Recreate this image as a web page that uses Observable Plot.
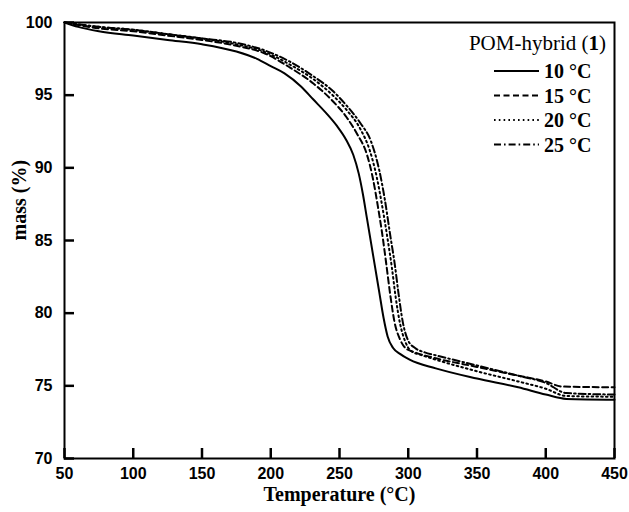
<!DOCTYPE html>
<html>
<head>
<meta charset="utf-8">
<script src="https://cdn.jsdelivr.net/npm/d3@7"></script>
<script src="https://cdn.jsdelivr.net/npm/@observablehq/plot@0.6"></script>
<style>
  html, body { margin: 0; padding: 0; background: #fff; }
  #chart { width: 629px; height: 512px; }
</style>
</head>
<body>
<div id="chart"></div>
<script>
// ---- Data ----
const xTicks = [50, 100, 150, 200, 250, 300, 350, 400, 450];
const yTicks = [70, 75, 80, 85, 90, 95, 100];

const seriesNames = ["10 °C", "15 °C", "20 °C", "25 °C"];
const legendTitle = "POM-hybrid (";
const legendTitleNum = "1";
const xLabel = "Temperature (°C)";
const yLabel = "mass (%)";

const t10 = [50,60,75,100,125,150,175,190,200,210,222,231,240,248,255,260,264,267,270,273,276,279,282,285,289,294,301,320,350,380,400,415,450];
const m10 = [100,99.7,99.4,99.1,98.8,98.5,98.0,97.5,97.0,96.5,95.6,94.7,93.8,92.9,91.9,90.9,89.6,88.2,86.5,84.8,83.1,81.4,79.7,78.4,77.6,77.2,76.8,76.2,75.5,74.9,74.4,74.1,74.05];

const t15 = [50,75,100,125,150,175,195,214,231,245,255,263,270,274,278,281,284,287,290,294,298,305,320,350,380,400,412,450];
const m15 = [100,99.6,99.4,99.1,98.8,98.4,97.9,96.9,95.8,94.6,93.5,92.3,90.9,89.4,87.3,85.5,83.4,81.2,79.4,78.2,77.6,77.3,76.9,76.3,75.7,75.3,74.95,74.9];

const t20 = [50,75,100,125,150,175,195,214,231,245,255,265,272,277,281,285,288,291,294,298,302,310,320,350,380,400,415,450];
const m20 = [100,99.7,99.5,99.2,98.9,98.5,98.0,97.1,96.1,95.0,94.0,92.7,91.2,89.4,87.4,85.1,83.2,81.0,79.3,78.0,77.4,77.1,76.8,76.0,75.3,74.8,74.3,74.25];

const t25 = [50,75,100,125,150,175,195,214,231,245,255,265,273,279,283,287,290,293,296,300,305,312,320,350,380,400,415,450];
const m25 = [100,99.7,99.5,99.2,98.9,98.6,98.1,97.3,96.3,95.3,94.3,93.1,91.8,89.8,87.8,85.3,83.5,81.3,79.4,78.1,77.6,77.3,77.1,76.4,75.7,75.2,74.5,74.4];

// ---- Build table ----
const temps = [t10, t15, t20, t25];
const masses = [m10, m15, m20, m25];
const dashes = [null, "6,3.5", "1.6,3.2", "7,3,1.6,3"];

const W = 629, H = 512;
const mL = 64, mR = 15, mT = 22, mB = 54;
const innerW = W - mL - mR, innerH = H - mT - mB;
const SERIF = "'Liberation Serif', 'Times New Roman', serif";

const lineMarks = seriesNames.map((name, i) => {
  const rows = temps[i].map((t, j) => ({T: t, m: masses[i][j]}));
  return Plot.line(rows, {
    x: "T", y: "m", stroke: "#000", strokeWidth: 2,
    strokeDasharray: dashes[i], curve: "monotone-x"
  });
});

// legend as a custom mark placed in the upper-right of the frame
function legendMark(index, scales, values, dims) {
  const g = d3.create("svg:g");
  const right = dims.width - dims.marginRight - 8;
  g.append("text")
    .attr("x", right).attr("y", 50)
    .attr("text-anchor", "end")
    .attr("font-family", SERIF)
    .attr("font-weight", "normal")
    .attr("font-size", 21)
    .attr("fill", "#000")
    .call(t => {
      t.append("tspan").text(legendTitle);
      t.append("tspan").attr("font-weight", "bold").text(legendTitleNum);
      t.append("tspan").text(")");
    });
  seriesNames.forEach((name, i) => {
    const cy = 71 + i * 24.5;
    g.append("line")
      .attr("x1", right - 112).attr("x2", right - 67)
      .attr("y1", cy).attr("y2", cy)
      .attr("stroke", "#000").attr("stroke-width", 2)
      .attr("stroke-dasharray", dashes[i]);
    g.append("text")
      .attr("x", right - 62).attr("y", cy + 7)
      .attr("text-anchor", "start")
      .attr("font-family", SERIF)
      .attr("font-weight", "bold")
      .attr("font-size", 20)
      .attr("fill", "#000")
      .text(name);
  });
  return g.node();
}

const chart = Plot.plot({
  width: W, height: H,
  marginLeft: mL, marginRight: mR, marginTop: mT, marginBottom: mB,
  style: {fontFamily: "'Liberation Sans', Arial, sans-serif", fontSize: "16px", fontWeight: "bold", background: "#fff", color: "#000"},
  x: {domain: [50, 450]},
  y: {domain: [70, 100]},
  marks: [
    ...lineMarks,
    Plot.frame({stroke: "#000", strokeWidth: 2}),
    Plot.tickY(yTicks, {y: d => d, insetRight: innerW - 10, stroke: "#000", strokeWidth: 2.5}),
    Plot.tickX(xTicks, {x: d => d, insetTop: innerH - 10, stroke: "#000", strokeWidth: 2.5}),
    Plot.axisY(yTicks, {tickSize: 0, tickPadding: 12, label: null, fontSize: 16, fontWeight: "bold"}),
    Plot.axisX(xTicks, {tickSize: 0, tickPadding: 9, label: null, fontSize: 16, fontWeight: "bold"}),
    Plot.text([xLabel], {text: d => d, frameAnchor: "bottom", dy: 42, fontFamily: SERIF, fontSize: 20, fontWeight: "bold"}),
    Plot.text([yLabel], {text: d => d, frameAnchor: "left", dx: -45, rotate: -90, fontFamily: SERIF, fontSize: 20, fontWeight: "bold"}),
    legendMark
  ]
});
document.getElementById("chart").appendChild(chart);
</script>
</body>
</html>
